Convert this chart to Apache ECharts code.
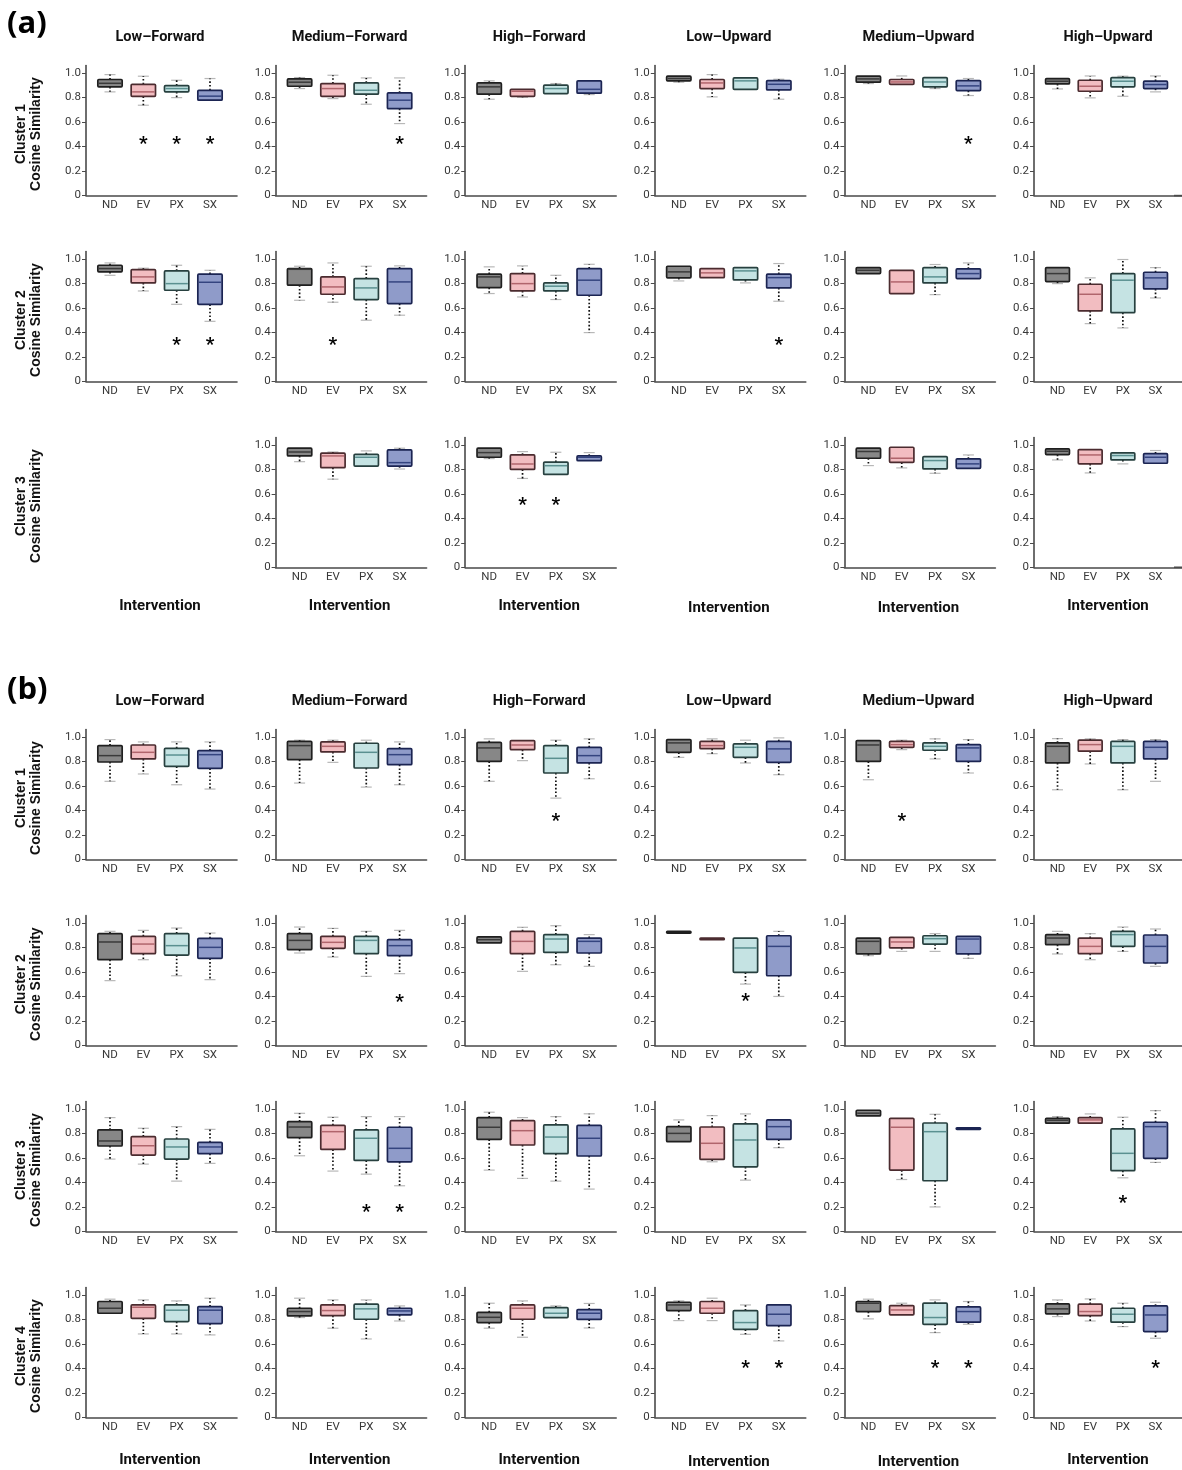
<!DOCTYPE html>
<html><head><meta charset="utf-8">
<script src="https://cdn.jsdelivr.net/npm/echarts@6/dist/echarts.min.js"></script>
<style>html,body{margin:0;padding:0;background:#fff}#c{width:1182px;height:1470px}</style>
</head><body><div id="c"></div>
<script>
// ---------- DATA ----------
const categories = ['ND', 'EV', 'PX', 'SX'];
const conditions = ['Low–Forward', 'Medium–Forward', 'High–Forward', 'Low–Upward', 'Medium–Upward', 'High–Upward'];
const yTickValues = [0, 0.2, 0.4, 0.6, 0.8, 1.0];

// each subplot: four boxes [min, Q1, median, Q3, max] for ND, EV, PX, SX ; null = no subplot
const aCluster1 = [
  [[0.845,0.886,0.915,0.946,0.986],[0.736,0.809,0.845,0.907,0.973],[0.798,0.845,0.872,0.896,0.94],[0.775,0.777,0.81,0.858,0.954]],
  [[0.872,0.891,0.924,0.951,0.962],[0.79,0.809,0.872,0.913,0.981],[0.744,0.826,0.858,0.918,0.959],[0.586,0.708,0.777,0.837,0.959]],
  [[0.785,0.826,0.886,0.918,0.935],[0.80,0.809,0.85,0.866,0.872],[0.826,0.831,0.872,0.90,0.913],[0.823,0.834,0.866,0.935,0.943]],
  [[0.924,0.935,0.954,0.973,0.98],[0.804,0.872,0.918,0.946,0.986],[0.866,0.866,0.935,0.959,0.967],[0.785,0.861,0.907,0.937,0.948]],
  [[0.913,0.924,0.951,0.973,0.98],[0.905,0.907,0.926,0.946,0.975],[0.872,0.886,0.926,0.962,0.967],[0.815,0.856,0.894,0.937,0.954]],
  [[0.869,0.91,0.932,0.954,0.954],[0.796,0.85,0.891,0.94,0.975],[0.809,0.886,0.932,0.962,0.973],[0.845,0.872,0.905,0.932,0.975]]
];
const aCluster2 = [
  [[0.866,0.894,0.921,0.948,0.967],[0.738,0.804,0.853,0.913,0.924],[0.629,0.744,0.798,0.902,0.948],[0.49,0.629,0.809,0.875,0.907]],
  [[0.662,0.785,0.915,0.921,0.94],[0.646,0.711,0.771,0.853,0.967],[0.499,0.668,0.763,0.839,0.94],[0.54,0.635,0.812,0.921,0.943]],
  [[0.717,0.766,0.853,0.875,0.935],[0.689,0.738,0.798,0.88,0.943],[0.668,0.738,0.777,0.804,0.866],[0.398,0.703,0.826,0.921,0.956]],
  [[0.82,0.845,0.894,0.94,0.946],[0.847,0.847,0.886,0.921,0.921],[0.804,0.828,0.902,0.929,0.929],[0.654,0.763,0.847,0.875,0.962]],
  [[0.88,0.88,0.907,0.929,0.929],[0.717,0.717,0.812,0.907,0.907],[0.708,0.804,0.853,0.929,0.954],[0.839,0.839,0.88,0.918,0.967]],
  [[0.798,0.815,0.88,0.929,0.935],[0.471,0.575,0.711,0.793,0.845],[0.436,0.561,0.826,0.88,0.995],[0.681,0.755,0.845,0.891,0.929]]
];
const aCluster3 = [
  null,
  [[0.863,0.91,0.942,0.973,0.973],[0.72,0.814,0.91,0.932,0.942],[0.827,0.827,0.899,0.923,0.951],[0.803,0.827,0.855,0.959,0.973]],
  [[0.888,0.899,0.937,0.973,0.978],[0.726,0.80,0.844,0.918,0.945],[0.759,0.759,0.83,0.86,0.94],[0.871,0.871,0.899,0.91,0.937]],
  null,
  [[0.831,0.891,0.946,0.973,0.973],[0.812,0.858,0.891,0.981,0.981],[0.768,0.804,0.872,0.905,0.913],[0.809,0.809,0.845,0.886,0.918]],
  [[0.877,0.921,0.948,0.967,0.973],[0.771,0.845,0.918,0.962,0.967],[0.845,0.877,0.913,0.935,0.94],[0.85,0.85,0.899,0.929,0.954]]
];
const bCluster1 = [
  [[0.637,0.795,0.847,0.929,0.978],[0.697,0.82,0.874,0.934,0.959],[0.609,0.76,0.852,0.907,0.959],[0.574,0.743,0.855,0.888,0.959]],
  [[0.623,0.814,0.929,0.964,0.973],[0.792,0.877,0.923,0.959,0.973],[0.59,0.746,0.874,0.948,0.973],[0.609,0.773,0.855,0.904,0.959]],
  [[0.637,0.80,0.91,0.956,0.984],[0.806,0.896,0.934,0.97,0.973],[0.50,0.705,0.825,0.929,0.973],[0.658,0.787,0.847,0.915,0.984]],
  [[0.833,0.874,0.951,0.978,0.978],[0.863,0.904,0.929,0.964,0.984],[0.787,0.833,0.915,0.943,0.973],[0.691,0.792,0.902,0.964,0.992]],
  [[0.65,0.80,0.934,0.97,0.978],[0.896,0.915,0.937,0.964,0.973],[0.82,0.891,0.923,0.951,0.984],[0.705,0.80,0.91,0.937,0.978]],
  [[0.568,0.787,0.923,0.951,0.986],[0.779,0.883,0.937,0.973,0.984],[0.568,0.787,0.923,0.964,0.978],[0.637,0.82,0.915,0.964,0.978]]
];
const bCluster2 = [
  [[0.529,0.70,0.845,0.913,0.932],[0.70,0.749,0.828,0.891,0.94],[0.569,0.738,0.815,0.913,0.959],[0.537,0.711,0.801,0.875,0.918]],
  [[0.755,0.782,0.858,0.913,0.967],[0.722,0.793,0.842,0.891,0.956],[0.564,0.749,0.858,0.891,0.932],[0.586,0.733,0.815,0.864,0.94]],
  [[0.837,0.837,0.864,0.886,0.886],[0.605,0.749,0.85,0.932,0.965],[0.659,0.76,0.869,0.905,0.978],[0.646,0.755,0.85,0.877,0.905]],
  [[0.915,0.918,0.925,0.932,0.935],[0.872,0.872,0.874,0.876,0.876],[0.501,0.597,0.796,0.877,0.877],[0.40,0.569,0.809,0.896,0.932]],
  [[0.733,0.747,0.85,0.877,0.877],[0.768,0.796,0.845,0.883,0.883],[0.768,0.828,0.872,0.896,0.913],[0.711,0.747,0.869,0.891,0.891]],
  [[0.747,0.823,0.877,0.905,0.932],[0.70,0.749,0.809,0.877,0.913],[0.768,0.809,0.905,0.932,0.967],[0.646,0.673,0.809,0.902,0.951]]
];
const bCluster3 = [
  [[0.59,0.697,0.738,0.828,0.929],[0.549,0.623,0.699,0.773,0.842],[0.41,0.59,0.689,0.754,0.855],[0.555,0.634,0.689,0.727,0.833]],
  [[0.617,0.765,0.852,0.896,0.964],[0.492,0.669,0.814,0.866,0.932],[0.467,0.579,0.76,0.828,0.937],[0.372,0.568,0.678,0.85,0.937]],
  [[0.50,0.751,0.85,0.929,0.973],[0.432,0.705,0.822,0.904,0.929],[0.41,0.634,0.77,0.869,0.937],[0.345,0.615,0.76,0.865,0.96]],
  [[0.732,0.732,0.80,0.855,0.91],[0.568,0.587,0.719,0.852,0.945],[0.418,0.527,0.746,0.877,0.959],[0.683,0.751,0.855,0.91,0.915]],
  [[0.943,0.943,0.965,0.989,0.989],[0.423,0.50,0.85,0.923,0.929],[0.199,0.413,0.814,0.885,0.956],[0.835,0.835,0.84,0.845,0.845]],
  [[0.883,0.883,0.907,0.923,0.937],[0.883,0.883,0.91,0.929,0.959],[0.437,0.495,0.637,0.836,0.932],[0.563,0.596,0.855,0.891,0.986]]
];
const bCluster4 = [
  [[0.85,0.85,0.891,0.946,0.965],[0.681,0.809,0.899,0.918,0.959],[0.681,0.782,0.875,0.918,0.951],[0.673,0.766,0.875,0.905,0.973]],
  [[0.815,0.828,0.864,0.891,0.973],[0.728,0.831,0.872,0.918,0.959],[0.64,0.801,0.886,0.924,0.959],[0.787,0.837,0.869,0.891,0.91]],
  [[0.728,0.774,0.817,0.858,0.932],[0.654,0.801,0.891,0.918,0.951],[0.815,0.815,0.85,0.896,0.91],[0.73,0.80,0.85,0.88,0.93]],
  [[0.79,0.872,0.918,0.94,0.951],[0.79,0.85,0.891,0.946,0.973],[0.678,0.719,0.774,0.872,0.918],[0.624,0.749,0.842,0.918,0.926]],
  [[0.804,0.864,0.932,0.946,0.965],[0.837,0.837,0.877,0.913,0.932],[0.692,0.76,0.815,0.932,0.959],[0.76,0.777,0.864,0.902,0.946]],
  [[0.823,0.845,0.886,0.926,0.959],[0.787,0.831,0.864,0.924,0.967],[0.741,0.777,0.842,0.891,0.932],[0.646,0.70,0.836,0.91,0.94]]
];

// significance asterisks per subplot: [category, height]
const aSig1 = [[['EV',0.458],['PX',0.458],['SX',0.458]], [['SX',0.458]], [], [], [['SX',0.458]], []];
const aSig2 = [[['PX',0.338],['SX',0.338]], [['EV',0.338]], [], [['SX',0.338]], [], []];
const aSig3 = [[], [], [['EV',0.548],['PX',0.548]], [], [], []];
const bSig1 = [[], [], [['PX',0.35]], [], [['EV',0.35]], []];
const bSig2 = [[], [['SX',0.395]], [], [['PX',0.40]], [], []];
const bSig3 = [[], [['PX',0.194],['SX',0.194]], [], [], [], [['PX',0.268]]];
const bSig4 = [[], [], [], [['PX',0.441],['SX',0.441]], [['PX',0.441],['SX',0.441]], [['SX',0.441]]];

// ---------- LAYOUT / STYLE ----------
const fills   = ['#878787', '#f2bdc1', '#c5e3e3', '#8f9bc9'];
const strokes = ['#1f1f1f', '#4b2b2f', '#27403f', '#1b2452'];
const medians = ['#3a3a3a', '#b0656c', '#5a9090', '#34447f'];
const UNIT = 122.4, YMAX = 1.06;
const colLeft = i => 86 + 189.6 * i;
const PLOT_W = 151;

const rows = [
  {panel: 'a', label: 'Cluster 1', data: aCluster1, sig: aSig1, zero: 195.3},
  {panel: 'a', label: 'Cluster 2', data: aCluster2, sig: aSig2, zero: 381.3},
  {panel: 'a', label: 'Cluster 3', data: aCluster3, sig: aSig3, zero: 567.3},
  {panel: 'b', label: 'Cluster 1', data: bCluster1, sig: bSig1, zero: 859.3},
  {panel: 'b', label: 'Cluster 2', data: bCluster2, sig: bSig2, zero: 1045.4},
  {panel: 'b', label: 'Cluster 3', data: bCluster3, sig: bSig3, zero: 1231.3},
  {panel: 'b', label: 'Cluster 4', data: bCluster4, sig: bSig4, zero: 1417.3}
];

function renderBox(params, api) {
  const x = api.value(0), i = x - 1;
  const mn = api.coord([x, api.value(1)]);
  const q1 = api.coord([x, api.value(2)]);
  const md = api.coord([x, api.value(3)]);
  const q3 = api.coord([x, api.value(4)]);
  const mx = api.coord([x, api.value(5)]);
  const cx = md[0];
  const bw = api.size([1, 0])[0] * 0.73;
  const capW = 11;
  const ch = [];
  const dot = {stroke: '#111', lineWidth: 1.7, lineDash: [1.6, 2.1]};
  const cap = {stroke: '#b8b8b8', lineWidth: 1.2};
  if (mn[1] - q1[1] > 1) {
    ch.push({type: 'line', shape: {x1: cx - capW / 2, y1: mn[1], x2: cx + capW / 2, y2: mn[1]}, style: cap});
    ch.push({type: 'line', shape: {x1: cx, y1: q1[1], x2: cx, y2: mn[1]}, style: dot});
  }
  if (q3[1] - mx[1] > 1) {
    ch.push({type: 'line', shape: {x1: cx - capW / 2, y1: mx[1], x2: cx + capW / 2, y2: mx[1]}, style: cap});
    ch.push({type: 'line', shape: {x1: cx, y1: q3[1], x2: cx, y2: mx[1]}, style: dot});
  }
  const h = Math.max(q1[1] - q3[1], 1.5);
  ch.push({type: 'rect', shape: {x: cx - bw / 2, y: q3[1], width: bw, height: h, r: 1},
    style: {fill: fills[i], stroke: strokes[i], lineWidth: 1.7}});
  if (h > 3) {
    ch.push({type: 'line', shape: {x1: cx - bw / 2 + 1, y1: md[1], x2: cx + bw / 2 - 1, y2: md[1]},
      style: {stroke: medians[i], lineWidth: 1.5}});
  }
  return {type: 'group', children: ch};
}

function renderStar(params, api) {
  const p = api.coord([api.value(0), api.value(1)]);
  return {type: 'text', x: p[0], y: p[1] + 5,
    style: {text: '*', fill: '#000', font: 'bold 19px Roboto', align: 'center', verticalAlign: 'middle'}};
}

const grids = [], xAxes = [], yAxes = [], series = [], graphics = [];
const axisLineStyle = {color: '#4a4a4a', width: 1.6};
const labelFont = {fontFamily: 'Roboto', fontSize: 11.5, color: '#383838'};

rows.forEach(row => {
  row.data.forEach((boxes, c) => {
    if (!boxes) return;
    const gi = grids.length;
    grids.push({left: colLeft(c), top: row.zero - YMAX * UNIT, width: PLOT_W, height: YMAX * UNIT});
    xAxes.push({gridIndex: gi, type: 'value', min: 0.28, max: 4.81,
      axisLine: {show: true, onZero: false, lineStyle: axisLineStyle},
      axisTick: {show: false}, splitLine: {show: false},
      axisLabel: Object.assign({customValues: [1, 2, 3, 4], formatter: v => categories[Math.round(v) - 1] || '', margin: 4}, labelFont)});
    yAxes.push({gridIndex: gi, type: 'value', min: 0, max: YMAX,
      axisLine: {show: true, lineStyle: axisLineStyle},
      axisTick: {show: true, length: 4, lineStyle: {color: '#4a4a4a', width: 1}, customValues: yTickValues},
      splitLine: {show: false},
      axisLabel: Object.assign({customValues: yTickValues, formatter: v => v === 0 ? '0' : v.toFixed(1), margin: 5}, labelFont)});
    series.push({type: 'custom', xAxisIndex: gi, yAxisIndex: gi, renderItem: renderBox, silent: true,
      encode: {x: 0, y: [1, 2, 3, 4, 5]},
      data: boxes.map((b, k) => [k + 1].concat(b))});
    const stars = row.sig[c];
    if (stars.length) {
      series.push({type: 'custom', xAxisIndex: gi, yAxisIndex: gi, renderItem: renderStar, silent: true,
        encode: {x: 0, y: 1},
        data: stars.map(s => [categories.indexOf(s[0]) + 1, s[1]])});
    }
  });
  // row label
  graphics.push({type: 'text', x: 28.5, y: row.zero - 0.5 * UNIT, rotation: Math.PI / 2,
    style: {text: row.label + '\nCosine Similarity', font: 'bold 14px "Liberation Sans", Arial', fill: '#111',
      align: 'center', verticalAlign: 'middle', lineHeight: 15}});
});

// column titles & x-axis names
const titleYs = {a: 37, b: 701.5};
const interYs = {a: 606.5, b: 1460.5};
['a', 'b'].forEach(p => {
  conditions.forEach((t, c) => {
    const cx = colLeft(c) + 74;
    graphics.push({type: 'text', x: cx, y: titleYs[p],
      style: {text: t, font: 'bold 14.5px Roboto', fill: '#111', align: 'center', verticalAlign: 'middle'}});
    const dy = (c === 3 || c === 4) ? 2 : 0;
    graphics.push({type: 'text', x: cx, y: interYs[p] + dy,
      style: {text: 'Intervention', font: 'bold 15px Roboto', fill: '#111', align: 'center', verticalAlign: 'middle'}});
  });
});
graphics.push({type: 'text', x: 7, y: 24, style: {text: '(a)', font: 'bold 31px "Open Sans", Roboto', fill: '#000', verticalAlign: 'middle'}});
graphics.push({type: 'text', x: 7, y: 690, style: {text: '(b)', font: 'bold 31px "Open Sans", Roboto', fill: '#000', verticalAlign: 'middle'}});
// small stray axis dashes at the right edge of panel (a)
[195.6, 567.3].forEach(y => graphics.push({type: 'line', shape: {x1: 1174, y1: y, x2: 1182, y2: y}, style: {stroke: '#4a4a4a', lineWidth: 1.6}}));

const chart = echarts.init(document.getElementById('c'), null, {renderer: 'canvas'});
chart.setOption({
  animation: false,
  backgroundColor: '#fff',
  grid: grids, xAxis: xAxes, yAxis: yAxes, series: series, graphic: graphics
});
</script></body></html>
